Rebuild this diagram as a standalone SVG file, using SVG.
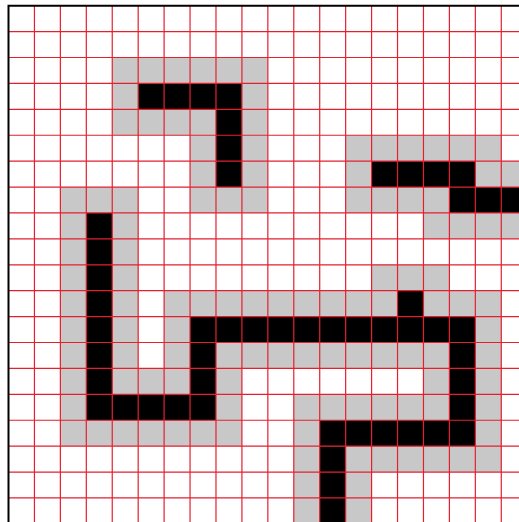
<svg xmlns="http://www.w3.org/2000/svg" width="519" height="522" viewBox="0 0 519 522">
<style>
.g{fill:#c8c8c8}
.b{fill:#000}
.grid{stroke:#e4202f;stroke-width:1.2;fill:none}
.frame{stroke:#000;stroke-width:2;fill:none}
</style>
<rect x="0" y="0" width="519" height="522" fill="#fff"/>
<g transform="translate(8.5 5.7) scale(0.9975 0.9965)">
  <g id="shape-a">
    <rect class="g" x="104" y="52" width="156" height="78"/>
    <rect class="g" x="182" y="130" width="78" height="78"/>
    <rect class="b" x="130" y="78" width="104" height="26"/>
    <rect class="b" x="208" y="104" width="26" height="78"/>
  </g>
  <g id="shape-b">
    <rect class="g" x="338" y="130" width="156" height="26"/>
    <rect class="g" x="338" y="156" width="182" height="52"/>
    <rect class="g" x="416" y="208" width="104" height="26"/>
    <rect class="b" x="364" y="156" width="104" height="26"/>
    <rect class="b" x="442" y="182" width="78" height="26"/>
  </g>
  <g id="shape-c">
    <rect class="g" x="52" y="182" width="78" height="260"/>
    <rect class="g" x="130" y="416" width="104" height="26"/>
    <rect class="g" x="130" y="364" width="104" height="52"/>
    <rect class="g" x="156" y="286" width="338" height="26"/>
    <rect class="g" x="156" y="312" width="26" height="52"/>
    <rect class="g" x="208" y="338" width="234" height="26"/>
    <rect class="g" x="364" y="260" width="78" height="26"/>
    <rect class="g" x="468" y="312" width="26" height="156"/>
    <rect class="g" x="416" y="364" width="26" height="26"/>
    <rect class="g" x="286" y="390" width="156" height="26"/>
    <rect class="g" x="286" y="416" width="26" height="104"/>
    <rect class="g" x="338" y="442" width="130" height="26"/>
    <rect class="g" x="338" y="468" width="26" height="52"/>
    <rect class="b" x="78" y="208" width="26" height="208"/>
    <rect class="b" x="104" y="390" width="104" height="26"/>
    <rect class="b" x="182" y="312" width="26" height="78"/>
    <rect class="b" x="208" y="312" width="260" height="26"/>
    <rect class="b" x="390" y="286" width="26" height="26"/>
    <rect class="b" x="442" y="338" width="26" height="104"/>
    <rect class="b" x="312" y="416" width="130" height="26"/>
    <rect class="b" x="312" y="442" width="26" height="78"/>
  </g>
  <g id="grid">
    <path class="grid" d="M26 0V530M52 0V530M78 0V530M104 0V530M130 0V530M156 0V530M182 0V530M208 0V530M234 0V530M260 0V530M286 0V530M312 0V530M338 0V530M364 0V530M390 0V530M416 0V530M442 0V530M468 0V530M494 0V530M520 0V530"/>
    <path class="grid" d="M0 26H530M0 52H530M0 78H530M0 104H530M0 130H530M0 156H530M0 182H530M0 208H530M0 234H530M0 260H530M0 286H530M0 312H530M0 338H530M0 364H530M0 390H530M0 416H530M0 442H530M0 468H530M0 494H530M0 520H530"/>
    <path class="frame" d="M0 530V0H530"/>
  </g>
</g>
</svg>
